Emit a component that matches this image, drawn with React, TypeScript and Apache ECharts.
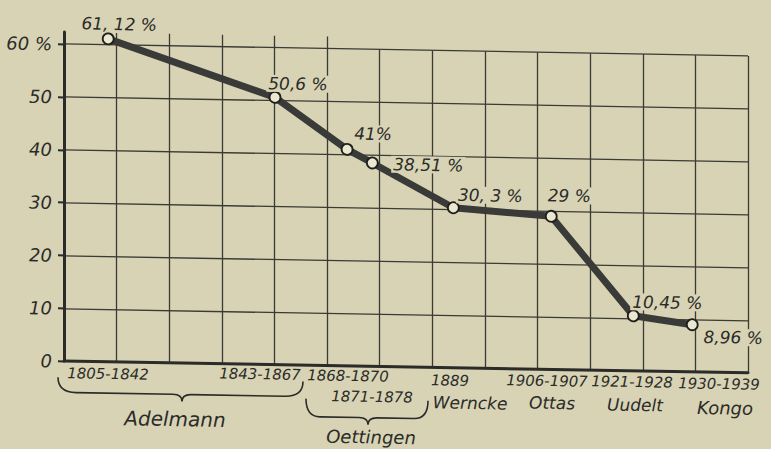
import React, { useEffect, useRef } from "react";
import * as echarts from "echarts";

// ---- data ----
const periods = ["1805-1842", "1843-1867", "1868-1870", "1871-1878", "1889", "1906-1907", "1921-1928", "1930-1939"];
const authors = ["Adelmann", "Oettingen", "Werncke", "Ottas", "Uudelt", "Kongo"];
const slotPositions = [0.84, 4.01, 5.38, 5.86, 7.4, 9.26, 10.82, 11.94];
const shares = [61.12, 50.6, 41, 38.51, 30.3, 29, 10.45, 8.96];
const shareLabels = ["61, 12 %", "50,6 %", "41%", "38,51 %", "30, 3 %", "29 %", "10,45 %", "8,96 %"];
const yTickValues = [0, 10, 20, 30, 40, 50, 60];

// ---- layout / style (not data) ----
const PAPER = "#d7d3b4";
const INK = "#2b2b29";
const FONT = "DejaVu Sans";
const labelOffsets: [number, number][] = [
  [11, -15], [23, -14], [26, -16], [56, 1], [37, -13], [18, -21], [34, -14], [41, 12],
];
const periodPos: [number, number][] = [
  [108, 378.8], [260, 376.5], [348, 376.7], [372, 397.2], [450, 379.5], [547, 378.2], [632, 377.7], [719, 378.2],
];
const authorPos: [number, number, number][] = [
  [175, 422.7, 20], [371, 437.2, 18], [470, 401.5, 17], [552, 400, 17], [635, 400.6, 17], [725, 402, 18],
];

function bracePath(x1: number, x2: number, xm: number, yTop: number, yH: number, yPt: number, r: number) {
  return `M${x1} ${yTop} Q${x1} ${yH} ${x1 + r} ${yH} L${xm - 9} ${yH} Q${xm} ${yH} ${xm} ${yPt} ` +
    `Q${xm} ${yH} ${xm + 9} ${yH} L${x2 - r} ${yH} Q${x2} ${yH} ${x2} ${yTop}`;
}

let registered = false;
function registerBraces() {
  if (registered) return;
  registered = true;
  echarts.graphic.registerShape("braceA", echarts.graphic.extendPath(bracePath(58, 303, 182, 383, 398, 405, 18), {}));
  echarts.graphic.registerShape("braceO", echarts.graphic.extendPath(bracePath(306, 428, 368, 400, 418, 425, 14), {}));
}

export default function App() {
  const ref = useRef<HTMLDivElement>(null);

  useEffect(() => {
    if (!ref.current) return;
    registerBraces();
    const chart = echarts.init(ref.current, undefined, { renderer: "svg" });

    const seriesData = shares.map((v, i) => ({
      value: [slotPositions[i], v],
      label: {
        show: true,
        formatter: shareLabels[i],
        position: "inside",
        offset: labelOffsets[i],
        align: "center",
        verticalAlign: "middle",
        fontFamily: FONT,
        fontStyle: "italic",
        fontSize: 17,
        color: INK,
        backgroundColor: PAPER,
        padding: [0, 2],
      },
    }));

    const graphics: any[] = [];
    periods.forEach((p, i) => {
      graphics.push({
        type: "text",
        x: periodPos[i][0],
        y: periodPos[i][1],
        style: {
          text: p,
          fill: INK,
          font: `italic 15px "${FONT}"`,
          align: "center",
          verticalAlign: "middle",
        },
      });
    });
    authors.forEach((a, i) => {
      graphics.push({
        type: "text",
        x: authorPos[i][0],
        y: authorPos[i][1],
        style: {
          text: a,
          fill: INK,
          font: `italic ${authorPos[i][2]}px "${FONT}"`,
          align: "center",
          verticalAlign: "middle",
        },
      });
    });
    graphics.push({ type: "braceA", x: 0, y: 0, style: { stroke: INK, lineWidth: 1.6, fill: null } });
    graphics.push({ type: "braceO", x: 0, y: 0, style: { stroke: INK, lineWidth: 1.6, fill: null } });

    const gridLine = { color: "#3a3a36", width: 1.3 };

    chart.setOption({
      animation: false,
      backgroundColor: "transparent",
      grid: [
        { left: 64, right: 23, top: 49.6, bottom: 82.3 },
        { left: 64, width: 263, top: 37.6, height: 12 },
      ],
      xAxis: [
        {
          type: "value",
          gridIndex: 0,
          min: 0,
          max: 13,
          interval: 1,
          axisLine: { show: true, onZero: false, lineStyle: { color: INK, width: 3 } },
          axisTick: { show: false },
          axisLabel: { show: false },
          splitLine: { show: true, lineStyle: gridLine },
        },
        {
          type: "value",
          gridIndex: 1,
          min: 0,
          max: 5,
          interval: 1,
          axisLine: { show: false },
          axisTick: { show: false },
          axisLabel: { show: false },
          splitLine: { show: true, lineStyle: gridLine },
        },
      ],
      yAxis: [
        {
          type: "value",
          gridIndex: 0,
          min: 0,
          max: 60,
          interval: 10,
          axisLine: { show: true, lineStyle: { color: INK, width: 3 } },
          axisTick: { show: true, length: 6, lineStyle: { color: INK, width: 2 } },
          axisLabel: {
            show: true,
            margin: 12,
            color: INK,
            fontFamily: FONT,
            fontStyle: "italic",
            fontSize: 18,
            formatter: (v: number) => (yTickValues.includes(v) ? (v === 60 ? "60 %" : String(v)) : ""),
          },
          splitLine: { show: true, lineStyle: gridLine },
        },
        {
          type: "value",
          gridIndex: 1,
          min: 0,
          max: 1,
          axisLine: { show: true, lineStyle: { color: INK, width: 3 } },
          axisTick: { show: false },
          axisLabel: { show: false },
          splitLine: { show: false },
        },
      ],
      series: [
        {
          type: "line",
          xAxisIndex: 0,
          yAxisIndex: 0,
          data: seriesData,
          clip: false,
          symbol: "circle",
          symbolSize: 11,
          showAllSymbol: true,
          lineStyle: { color: "#3a3a38", width: 7 },
          itemStyle: { color: "#ebe8d2", borderColor: "#1f1f1d", borderWidth: 1.8 },
          z: 5,
        },
      ],
      graphic: graphics,
    });

    return () => chart.dispose();
  }, []);

  return (
    <div
      style={{
        position: "fixed",
        left: 0,
        top: 0,
        width: 771,
        height: 449,
        background: PAPER,
        overflow: "hidden",
      }}
    >
      <div
        ref={ref}
        style={{
          width: 771,
          height: 449,
          transform: "skewY(1deg)",
          transformOrigin: "385.5px 224.5px",
        }}
      />
    </div>
  );
}
